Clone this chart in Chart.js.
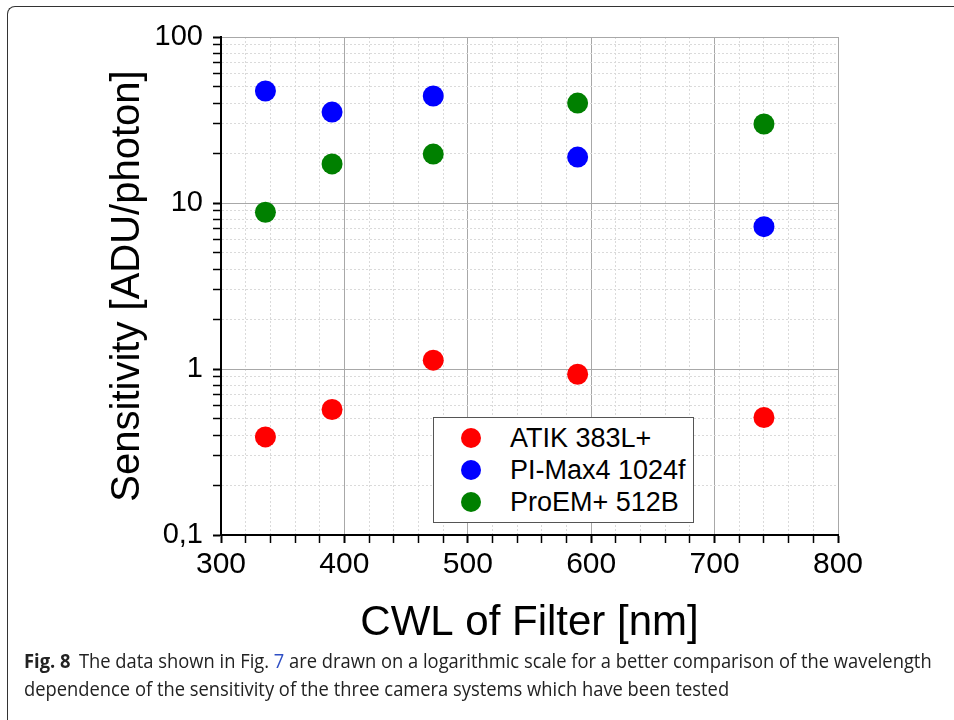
<!DOCTYPE html>
<html>
<head>
<meta charset="utf-8">
<script src="https://cdn.jsdelivr.net/npm/chart.js@4.4.1/dist/chart.umd.min.js"></script>
<style>
  html, body { margin: 0; padding: 0; background: #fff; }
  body { width: 954px; height: 720px; position: relative; overflow: hidden; font-family: Arial, "Liberation Sans", sans-serif; }
  #frame { position: absolute; left: 7px; top: 6px; width: 1000px; height: 800px;
           border-left: 1.5px solid #333; border-top: 1.5px solid #333; border-top-left-radius: 8px; }
  #chart { position: absolute; left: 0; top: 0; }
  #legend { position: absolute; left: 433px; top: 417px; width: 259px; height: 104px;
            border: 1.5px solid #555; background: #fff; }
  .row { position: absolute; left: 0; height: 30px; line-height: 30px; font-size: 27px; color: #000; white-space: nowrap; }
  .dot { position: absolute; left: 27px; top: 5px; width: 20px; height: 20px; border-radius: 50%; }
  .lbl { position: absolute; left: 76px; top: 0; }
  .cap { position: absolute; left: 24px; font-family: "Open Sans", "Noto Sans", sans-serif; font-size: 20px;
         color: #222; white-space: nowrap; transform-origin: 0 0; }
  .cap b { font-weight: 700; margin-right: 4px; }
  .cap .ref { color: #2f4fc4; }
</style>
</head>
<body>
<div id="frame"></div>
<canvas id="chart" width="954" height="653"></canvas>
<div id="legend"></div>
<div class="cap" id="cap1" style="top: 647px;"><b>Fig. 8</b> The data shown in Fig. <span class="ref">7</span> are drawn on a logarithmic scale for a better comparison of the wavelength</div>
<div class="cap" id="cap2" style="top: 675px;">dependence of the sensitivity of the three camera systems which have been tested</div>
<script>
// filter centre wavelengths [nm]
const cwl = [336, 390, 472, 589, 740];
// sensitivity [ADU/photon]
const atik = [0.39, 0.57, 1.13, 0.93, 0.51];
const piMax = [47.3, 35.3, 44.1, 18.9, 7.2];
const proEM = [8.8, 17.2, 19.7, 40.0, 29.9];

const seriesNames = ['ATIK 383L+', 'PI-Max4 1024f', 'ProEM+ 512B'];
const seriesColors = ['#ff0000', '#0000ff', '#008000'];

const yTicks = [0.1, 0.2, 0.3, 0.4, 0.5, 0.6, 0.7, 0.8, 0.9,
                1, 2, 3, 4, 5, 6, 7, 8, 9,
                10, 20, 30, 40, 50, 60, 70, 80, 90, 100];
const yLabels = { 0.1: '0,1', 1: '1', 10: '10', 100: '100' };

const isMajorX = v => v % 100 === 0;
const isMajorY = v => Math.abs(Math.log10(v) - Math.round(Math.log10(v))) < 1e-9;

const pts = vals => cwl.map((x, i) => ({ x: x, y: vals[i] }));

new Chart(document.getElementById('chart').getContext('2d'), {
  type: 'scatter',
  data: {
    datasets: [atik, piMax, proEM].map((vals, i) => ({
      label: seriesNames[i],
      data: pts(vals),
      backgroundColor: seriesColors[i],
      borderColor: seriesColors[i],
      pointRadius: 10.5,
      pointHoverRadius: 10.5,
      borderWidth: 0
    }))
  },
  options: {
    responsive: false,
    animation: false,
    layout: { padding: { left: 100, right: 116, top: 37, bottom: 0 } },
    plugins: { legend: { display: false }, tooltip: { enabled: false } },
    scales: {
      x: {
        type: 'linear',
        min: 300,
        max: 800,
        afterFit: s => { s.height = 118; },
        ticks: {
          stepSize: 20,
          autoSkip: false,
          maxRotation: 0,
          padding: 4,
          color: '#000',
          font: { family: 'Arial, "Liberation Sans"', size: 30 },
          callback: v => isMajorX(v) ? String(v) : ''
        },
        grid: {
          color: c => c.tick && isMajorX(c.tick.value) ? '#a8a8a8' : '#dadada',
          lineWidth: 1,
          tickLength: 8,
          tickColor: '#000',
          tickWidth: c => c.tick && isMajorX(c.tick.value) ? 2 : 1.5
        },
        border: {
          color: '#000',
          width: 2,
          dash: c => c.tick && !isMajorX(c.tick.value) ? [2, 2] : []
        },
        title: {
          display: true,
          text: 'CWL of Filter [nm]',
          color: '#000',
          font: { family: 'Arial, "Liberation Sans"', size: 42, weight: 'normal' },
          padding: { top: 4, bottom: 4 }
        }
      },
      y: {
        type: 'logarithmic',
        min: 0.1,
        max: 100,
        afterFit: s => { s.width = 121; },
        afterBuildTicks: s => { s.ticks = yTicks.map(v => ({ value: v, major: isMajorY(v) })); },
        ticks: {
          autoSkip: false,
          padding: 10,
          color: '#000',
          font: { family: 'Arial, "Liberation Sans"', size: 29 },
          callback: v => yLabels[v] !== undefined ? yLabels[v] : ''
        },
        grid: {
          color: c => c.tick && isMajorY(c.tick.value) ? '#a8a8a8' : '#dadada',
          lineWidth: 1,
          tickLength: 8,
          tickColor: '#000',
          tickWidth: c => c.tick && isMajorY(c.tick.value) ? 2 : 1.5
        },
        border: {
          color: '#000',
          width: 2,
          dash: c => c.tick && !isMajorY(c.tick.value) ? [2, 2] : []
        },
        title: {
          display: true,
          text: 'Sensitivity [ADU/photon]',
          color: '#000',
          font: { family: 'Arial, "Liberation Sans"', size: 40, weight: 'normal' },
          padding: { top: 4, bottom: 4 }
        }
      }
    }
  }
});

// legend box (html text)
const legend = document.getElementById('legend');
seriesNames.forEach((name, i) => {
  const row = document.createElement('div');
  row.className = 'row';
  row.style.top = (5 + i * 32) + 'px';
  row.innerHTML = '<span class="dot" style="background:' + seriesColors[i] + '"></span><span class="lbl">' + name + '</span>';
  legend.appendChild(row);
});

// squeeze caption to the width of the original column
const c1 = document.getElementById('cap1');
const c2 = document.getElementById('cap2');
const k = 908 / c1.scrollWidth;
c1.style.transform = 'scaleX(' + k + ')';
c2.style.transform = 'scaleX(' + k + ')';
</script>
</body>
</html>
